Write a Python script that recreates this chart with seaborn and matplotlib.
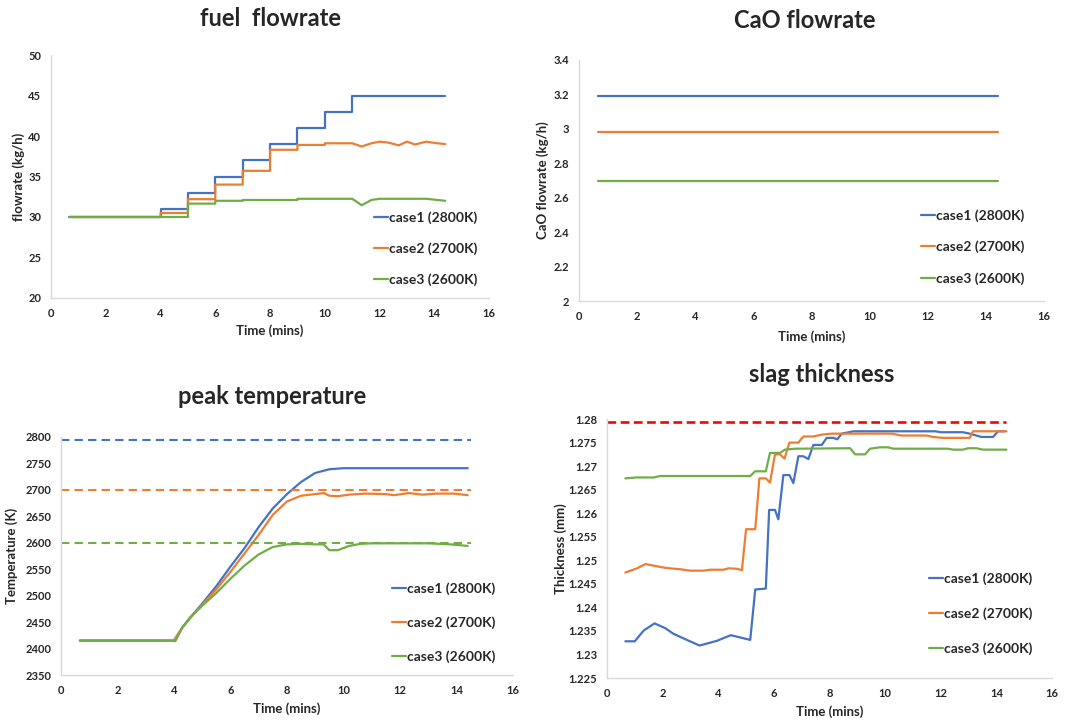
import pandas as pd
import seaborn as sns
import matplotlib
matplotlib.use("Agg")
import matplotlib.pyplot as plt
import matplotlib.ticker as mticker

# Etichette e colori delle serie
cases = ['case1 (2800K)', 'case2 (2700K)', 'case3 (2600K)']
colors = ['#4472C4', '#ED7D31', '#70AD47']

# fuel flowrate (kg/h)
t_fuel1 = [0.67, 4, 4, 5, 5, 6, 6, 7, 7, 8, 8, 9, 9, 10, 10, 11, 11, 14.4]
fuel1 = [30, 30, 31, 31, 33, 33, 35, 35, 37, 37, 39, 39, 41, 41, 43, 43, 45, 45]
t_fuel2 = [0.67, 4, 4, 5, 5, 6, 6, 7, 7, 8, 8, 9, 9, 10, 10, 11.0, 11.35, 11.7,
           12.0, 12.3, 12.7, 13.0, 13.3, 13.7, 14.0, 14.4]
fuel2 = [30, 30, 30.5, 30.5, 32.2, 32.2, 34.0, 34.0, 35.7, 35.7, 38.3, 38.3, 38.9, 38.9,
         39.1, 39.1, 38.7, 39.1, 39.3, 39.2, 38.85, 39.3, 38.95, 39.3, 39.15, 39.0]
t_fuel3 = [0.67, 5, 5, 6, 6, 7, 7, 9, 9, 11.0, 11.35, 11.7, 12.0, 13.7, 14.4]
fuel3 = [30, 30, 31.65, 31.65, 32.0, 32.0, 32.1, 32.1, 32.25, 32.25, 31.45, 32.1, 32.25, 32.25, 32.0]

# CaO flowrate (kg/h)
t_cao = [0.67, 14.4]
cao1 = [3.19, 3.19]
cao2 = [2.98, 2.98]
cao3 = [2.70, 2.70]

# peak temperature (K)
t_temp1 = [0.67, 4.0, 4.3, 4.6, 5.0, 5.5, 6.0, 6.5, 7.0, 7.5, 8.0, 8.5, 9.0, 9.5,
           10.0, 11.0, 12.0, 13.0, 14.4]
temp1 = [2415, 2415, 2440, 2460, 2485, 2518, 2555, 2590, 2630, 2665, 2692, 2715, 2732,
         2739, 2741, 2741, 2741, 2741, 2741]
t_temp2 = [0.67, 4.0, 4.3, 4.6, 5.0, 5.5, 6.0, 6.5, 7.0, 7.5, 8.0, 8.5, 9.0, 9.3, 9.5,
           9.8, 10.2, 10.8, 11.5, 11.8, 12.3, 12.8, 13.3, 13.9, 14.4]
temp2 = [2415, 2415, 2440, 2460, 2483, 2512, 2545, 2580, 2615, 2653, 2678, 2689, 2692,
         2694, 2689, 2688, 2691, 2693, 2692, 2690, 2694, 2691, 2693, 2693, 2690]
t_temp3 = [0.67, 3.9, 4.05, 4.3, 4.6, 5.0, 5.5, 6.0, 6.5, 7.0, 7.5, 8.0, 8.5, 9.0, 9.3,
           9.5, 9.8, 10.2, 10.6, 11.0, 12.0, 13.0, 13.8, 14.4]
temp3 = [2415, 2415, 2414, 2440, 2460, 2481, 2505, 2532, 2557, 2578, 2592, 2597, 2598,
         2597, 2597, 2586, 2586, 2594, 2598, 2599, 2599, 2599, 2597, 2594]
t_temp_ref = [0, 14.5]
temp_ref = [2795, 2700, 2600]

# slag thickness (mm)
t_slag1 = [0.66, 1.0, 1.32, 1.71, 2.09, 2.39, 2.87, 3.33, 3.95, 4.45, 5.15, 5.33, 5.71,
           5.83, 6.04, 6.16, 6.34, 6.56, 6.70, 6.88, 7.06, 7.24, 7.42, 7.72, 7.90, 8.14,
           8.28, 8.44, 8.86, 11.8, 12.0, 12.8, 13.04, 13.46, 13.88, 14.06, 14.3]
slag1 = [1.2328, 1.2328, 1.2351, 1.2366, 1.2356, 1.2344, 1.2331, 1.2319, 1.2329, 1.2341,
         1.2331, 1.2438, 1.2440, 1.2607, 1.2607, 1.2587, 1.2681, 1.2681, 1.2664, 1.2721,
         1.2721, 1.2715, 1.2745, 1.2745, 1.2760, 1.2760, 1.2757, 1.2769, 1.2774, 1.2774,
         1.2772, 1.2772, 1.2769, 1.2762, 1.2762, 1.2774, 1.2774]
t_slag2 = [0.66, 1.08, 1.38, 1.74, 2.09, 2.63, 2.99, 3.47, 3.71, 4.19, 4.37, 4.67, 4.85,
           5.0, 5.33, 5.48, 5.71, 5.86, 6.04, 6.22, 6.38, 6.56, 6.88, 7.06, 7.42, 7.72,
           8.08, 10.23, 10.59, 11.48, 11.72, 12.08, 13.04, 13.16, 14.36]
slag2 = [1.2474, 1.2483, 1.2492, 1.2488, 1.2484, 1.2481, 1.2478, 1.2478, 1.2480, 1.2480,
         1.2483, 1.2482, 1.2479, 1.2566, 1.2566, 1.2674, 1.2674, 1.2665, 1.2725, 1.2725,
         1.2716, 1.2750, 1.2750, 1.2763, 1.2763, 1.2767, 1.2769, 1.2769, 1.2765, 1.2765,
         1.2762, 1.2760, 1.2760, 1.2774, 1.2774]
t_slag3 = [0.66, 1.08, 1.68, 1.92, 5.15, 5.33, 5.71, 5.86, 6.22, 6.40, 6.76, 8.74, 8.92,
           9.28, 9.46, 9.81, 10.11, 10.29, 12.26, 12.44, 12.8, 12.98, 13.28, 13.52, 14.36]
slag3 = [1.2674, 1.2676, 1.2676, 1.2679, 1.2679, 1.2689, 1.2689, 1.2728, 1.2728, 1.2735,
         1.2737, 1.2738, 1.2725, 1.2725, 1.2737, 1.2740, 1.2740, 1.2737, 1.2737, 1.2735,
         1.2735, 1.2738, 1.2738, 1.2735, 1.2735]
t_slag_ref = [0, 14.36]
slag_ref = 1.2794


def make_df(times, values):
    """Costruisce un DataFrame lungo (Time, value, case) dalle liste delle tre serie."""
    parts = []
    for case, t, v in zip(cases, times, values):
        parts.append(pd.DataFrame({'Time': t, 'value': v, 'case': case}))
    return pd.concat(parts, ignore_index=True)


sns.set_theme(style="white")
plt.rcParams['font.family'] = ['Lato', 'DejaVu Sans']
plt.rcParams['font.weight'] = 'bold'

fig = plt.figure(figsize=(10.77, 7.21), dpi=100)

# Posizioni dei pannelli (in frazioni della figura)
panels = [
    dict(rect=[0.0474, 0.5867, 0.4067, 0.3370], title='fuel  flowrate', title_xy=(270, 18),
         ylabel='flowrate (kg/h)', ylim=(20, 50), ystep=5, ylab_x=-0.059, xlab_y=-0.107,
         leg=(0.708, -0.004), spacing=1.35,
         df=make_df([t_fuel1, t_fuel2, t_fuel3], [fuel1, fuel2, fuel3])),
    dict(rect=[0.5376, 0.5825, 0.4318, 0.3343], title='CaO flowrate', title_xy=(805, 21),
         ylabel='CaO flowrate (kg/h)', ylim=(2, 3.4), ystep=0.2, ylab_x=-0.065, xlab_y=-0.12,
         leg=(0.708, 0.015), spacing=1.35,
         df=make_df([t_cao] * 3, [cao1, cao2, cao3])),
    dict(rect=[0.0566, 0.0638, 0.4197, 0.3301], title='peak temperature', title_xy=(272, 397),
         ylabel='Temperature (K)', ylim=(2350, 2800), ystep=50, ylab_x=-0.095, xlab_y=-0.113,
         leg=(0.705, -0.004), spacing=1.55,
         df=make_df([t_temp1, t_temp2, t_temp3], [temp1, temp2, temp3])),
    dict(rect=[0.5636, 0.0596, 0.4132, 0.3592], title='slag thickness', title_xy=(822, 375),
         ylabel='Thickness (mm)', ylim=(1.225, 1.28), ystep=0.005, ylab_x=-0.09, xlab_y=-0.104,
         leg=(0.695, 0.042), spacing=1.6,
         df=make_df([t_slag1, t_slag2, t_slag3], [slag1, slag2, slag3])),
]

axes = []
for p in panels:
    ax = fig.add_axes(p['rect'])
    axes.append(ax)
    sns.lineplot(data=p['df'], x='Time', y='value', hue='case', hue_order=cases,
                 palette=colors, estimator=None, sort=False, linewidth=1.6, ax=ax)

    ax.set_xlim(0, 16)
    ax.set_ylim(*p['ylim'])
    ax.xaxis.set_major_locator(mticker.MultipleLocator(2))
    ax.yaxis.set_major_locator(mticker.MultipleLocator(p['ystep']))
    ax.yaxis.set_major_formatter(mticker.FuncFormatter(lambda v, _: f'{v:g}'))
    ax.tick_params(length=0, pad=7, labelsize=8)
    for lab in ax.get_xticklabels() + ax.get_yticklabels():
        lab.set_fontweight('bold')

    for side in ['top', 'right']:
        ax.spines[side].set_visible(False)
    for side in ['left', 'bottom']:
        ax.spines[side].set_color('#D9D9D9')
        ax.spines[side].set_linewidth(1.0)

    ax.set_xlabel('Time (mins)', fontsize=9.5, fontweight='bold')
    ax.set_ylabel(p['ylabel'], fontsize=9.5, fontweight='bold')
    ax.yaxis.set_label_coords(p['ylab_x'], 0.5)
    ax.xaxis.set_label_coords(0.5, p['xlab_y'])

    fig.text(p['title_xy'][0] / 1077, 1 - p['title_xy'][1] / 721, p['title'],
             ha='center', va='center', fontsize=17, fontweight='bold')

    # Legenda senza cornice in basso a destra
    old = ax.get_legend()
    handles = old.legend_handles
    labels = [t.get_text() for t in old.texts]
    ax.legend(handles, labels, loc='lower left', bbox_to_anchor=p['leg'], frameon=False,
              handlelength=1.0, handletextpad=0.1, labelspacing=p['spacing'],
              prop={'size': 10, 'weight': 'bold'})

# Linee di riferimento tratteggiate
ax_t = axes[2]
for val, col in zip(temp_ref, colors):
    sns.lineplot(x=t_temp_ref, y=[val, val], color=col, linewidth=1.5,
                 linestyle=(0, (4, 2.5)), ax=ax_t, legend=False)

ax_s = axes[3]
sns.lineplot(x=t_slag_ref, y=[slag_ref, slag_ref], color='#FF0000', linewidth=1.9,
             linestyle=(0, (3.3, 1.7)), ax=ax_s, legend=False)

fig.savefig('out.png', dpi=100)
plt.close(fig)
